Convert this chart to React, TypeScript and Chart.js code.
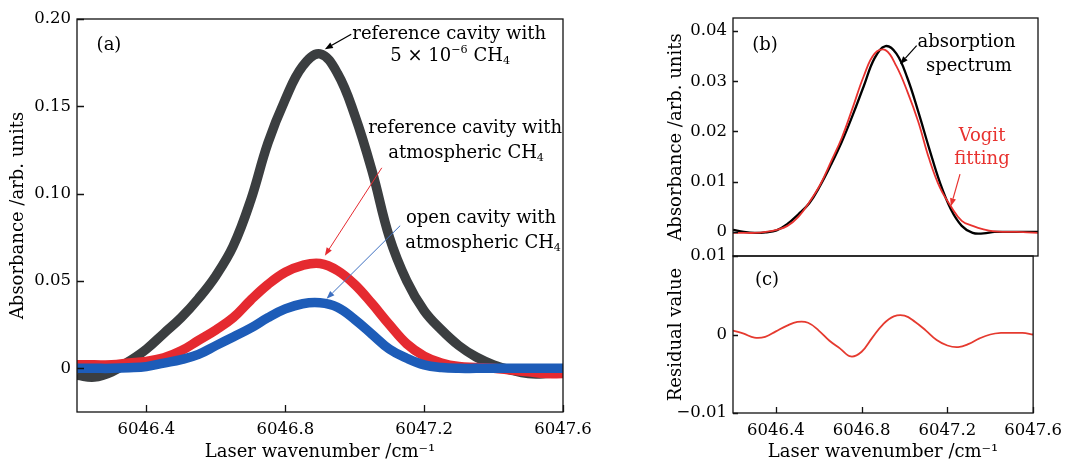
import React, { useEffect, useRef } from 'react';
import { Chart, registerables } from 'chart.js';

Chart.register(...registerables);

const FONT = "'DejaVu Serif', 'Liberation Serif', serif";

// ---------- data ----------
const WAVENUMBER = [
  6046.2, 6046.25, 6046.3, 6046.35, 6046.4, 6046.45, 6046.5, 6046.55, 6046.6, 6046.65,
  6046.7, 6046.75, 6046.8, 6046.85, 6046.9, 6046.95, 6047.0, 6047.05, 6047.1, 6047.15,
  6047.2, 6047.25, 6047.3, 6047.35, 6047.4, 6047.45, 6047.5, 6047.55, 6047.6,
];

// panel (a)
const REF_CAVITY_5PPM = [
  -0.004, -0.005, -0.002, 0.004, 0.011, 0.02, 0.029, 0.04, 0.053, 0.07,
  0.096, 0.129, 0.154, 0.173, 0.18, 0.169, 0.145, 0.113, 0.075, 0.05,
  0.033, 0.022, 0.013, 0.0065, 0.002, -0.001, -0.003, -0.003, -0.002,
];
const REF_CAVITY_ATM = [
  0.002, 0.002, 0.002, 0.003, 0.004, 0.006, 0.01, 0.016, 0.022, 0.029,
  0.039, 0.048, 0.055, 0.059, 0.06, 0.056, 0.048, 0.037, 0.025, 0.014,
  0.007, 0.003, 0.001, 0.0005, 0.0, -0.001, -0.002, -0.003, -0.003,
];
const OPEN_CAVITY_ATM = [
  0.0, 0.0, 0.0, 0.0003, 0.001, 0.003, 0.005, 0.008, 0.013, 0.018,
  0.023, 0.029, 0.034, 0.037, 0.0375, 0.035, 0.028, 0.0195, 0.011, 0.0058,
  0.002, 0.0005, 0.0, 0.0, 0.0, 0.0, 0.0, 0.0, 0.0,
];

// panel (b)
const ABSORPTION_SPECTRUM = [
  0.0004, 0.0, -0.0002, -0.0001, 0.0003, 0.0016, 0.0035, 0.0057, 0.0092, 0.0134,
  0.018, 0.0233, 0.029, 0.0346, 0.037, 0.0355, 0.0307, 0.024, 0.0167, 0.0098,
  0.0045, 0.0012, -0.0002, -0.0003, 0.0, 0.0, 0.0, 0.0, 0.0,
];
const VOIGT_FITTING = [
  -0.0002, -0.0002, -0.0002, 0.0, 0.0004, 0.0012, 0.003, 0.0059, 0.0094, 0.014,
  0.0188, 0.0248, 0.031, 0.0355, 0.0362, 0.033, 0.028, 0.022, 0.0146, 0.0088,
  0.0051, 0.0022, 0.0012, 0.0005, 0.0001, 0.0, 0.0, -0.0001, -0.0002,
];

// panel (c)
const RESIDUAL = [
  0.0005, 0.0001, -0.0004, -0.0003, 0.0004, 0.0011, 0.0016, 0.0015, 0.0005, -0.0008,
  -0.0018, -0.0028, -0.0022, -0.0004, 0.0013, 0.0023, 0.0024, 0.0016, 0.0005, -0.0007,
  -0.0014, -0.0016, -0.0012, -0.0005, 0.0, 0.0002, 0.0002, 0.0002, 0.0,
];

const X_TICKS = [6046.4, 6046.8, 6047.2, 6047.6];
const A_Y_TICKS = [0, 0.05, 0.1, 0.15, 0.2];
const B_Y_TICKS = [0, 0.01, 0.02, 0.03, 0.04];
const C_Y_TICKS = [-0.01, 0, 0.01];

const X_TITLE = 'Laser wavenumber /cm\u207B\u00B9';

// ---------- drawing helpers ----------
type Part = [string, 'n' | 'sup' | 'sub'];

function drawRich(ctx: CanvasRenderingContext2D, parts: Part[], cx: number, cy: number, size: number, color: string) {
  const small = size * 0.62;
  const widths: number[] = [];
  let total = 0;
  parts.forEach(([t, m]) => {
    ctx.font = `${m === 'n' ? size : small}px ${FONT}`;
    const w = ctx.measureText(t).width;
    widths.push(w);
    total += w;
  });
  let x = cx - total / 2;
  ctx.fillStyle = color;
  ctx.textBaseline = 'middle';
  ctx.textAlign = 'left';
  parts.forEach(([t, m], i) => {
    ctx.font = `${m === 'n' ? size : small}px ${FONT}`;
    const dy = m === 'sup' ? -size * 0.36 : m === 'sub' ? size * 0.26 : 0;
    ctx.fillText(t, x, cy + dy);
    x += widths[i];
  });
}

function drawArrow(ctx: CanvasRenderingContext2D, x1: number, y1: number, x2: number, y2: number, color: string, lw: number, head: number) {
  const ang = Math.atan2(y2 - y1, x2 - x1);
  const bx = x2 - head * Math.cos(ang);
  const by = y2 - head * Math.sin(ang);
  ctx.strokeStyle = color;
  ctx.fillStyle = color;
  ctx.lineWidth = lw;
  ctx.beginPath();
  ctx.moveTo(x1, y1);
  ctx.lineTo(bx, by);
  ctx.stroke();
  const hw = head * 0.38;
  ctx.beginPath();
  ctx.moveTo(x2, y2);
  ctx.lineTo(bx + hw * Math.sin(ang), by - hw * Math.cos(ang));
  ctx.lineTo(bx - hw * Math.sin(ang), by + hw * Math.cos(ang));
  ctx.closePath();
  ctx.fill();
}

type TextNote = { x: number; y: number; parts: Part[]; color: string };
type ArrowNote = { x1: number; y1: number; x2: number; y2: number; color: string; width: number };
type PanelNotes = {
  label: string;
  labelDx: number;
  labelDy: number;
  texts: TextNote[];
  arrows: ArrowNote[];
  yTickLen: number;
  xTickLen: number;
  drawXTicks: boolean;
};

const framePlugin = {
  id: 'framePlugin',
  afterDraw(chart: any, _args: any, opts: PanelNotes) {
    const { ctx, chartArea } = chart;
    const xs = chart.scales.x;
    const ys = chart.scales.y;
    const { left, top, right, bottom } = chartArea;
    ctx.save();
    ctx.strokeStyle = '#111';
    ctx.lineWidth = 1.3;
    ctx.strokeRect(left, top, right - left, bottom - top);
    ctx.beginPath();
    ys.ticks.forEach((t: any) => {
      const py = Math.round(ys.getPixelForValue(t.value)) + 0.5;
      ctx.moveTo(left, py);
      ctx.lineTo(left + opts.yTickLen, py);
    });
    if (opts.drawXTicks) {
      xs.ticks.forEach((t: any) => {
        const px = Math.round(xs.getPixelForValue(t.value)) + 0.5;
        ctx.moveTo(px, bottom);
        ctx.lineTo(px, bottom - opts.xTickLen);
      });
    }
    ctx.lineWidth = 1.3;
    ctx.stroke();
    drawRich(ctx, [[opts.label, 'n']], left + opts.labelDx, top + opts.labelDy, 18, '#000');
    opts.arrows.forEach((a) => {
      drawArrow(ctx, xs.getPixelForValue(a.x1), ys.getPixelForValue(a.y1), xs.getPixelForValue(a.x2), ys.getPixelForValue(a.y2), a.color, a.width, 8);
    });
    opts.texts.forEach((t) => {
      drawRich(ctx, t.parts, xs.getPixelForValue(t.x), ys.getPixelForValue(t.y), 18, t.color);
    });
    ctx.restore();
  },
};

type Series = { values: number[]; color: string; width: number; order: number };

type PanelSpec = {
  series: Series[];
  padding: { left: number; top: number; right: number; bottom: number };
  yMin: number;
  yMax: number;
  yTicks: number[];
  yFmt: (v: number) => string;
  yWidth: number;
  yTitle: string;
  yTitlePad: number;
  showX: boolean;
  xHeight: number;
  notes: PanelNotes;
};

function makeChart(canvas: HTMLCanvasElement, spec: PanelSpec) {
  const tickFont = { family: FONT, size: 16.5 };
  return new Chart(canvas, {
    type: 'line',
    data: {
      datasets: spec.series.map((s) => ({
        data: WAVENUMBER.map((x, i) => ({ x, y: s.values[i] })),
        borderColor: s.color,
        backgroundColor: s.color,
        borderWidth: s.width,
        pointRadius: 0,
        fill: false,
        tension: 0.4,
        borderJoinStyle: 'round' as const,
        clip: 0,
        order: s.order,
      })),
    },
    options: {
      animation: false,
      responsive: false,
      events: [],
      layout: { padding: spec.padding },
      plugins: {
        legend: { display: false },
        tooltip: { enabled: false },
        framePlugin: spec.notes,
      } as any,
      scales: {
        x: {
          type: 'linear',
          min: 6046.2,
          max: 6047.6,
          display: spec.showX,
          grid: { display: false, drawTicks: false },
          border: { display: false },
          afterBuildTicks: (s: any) => {
            s.ticks = X_TICKS.map((v) => ({ value: v }));
          },
          afterFit: (s: any) => {
            s.height = spec.xHeight;
          },
          ticks: {
            font: tickFont,
            color: '#000',
            padding: 8,
            maxRotation: 0,
            autoSkip: false,
            callback: (v: any) => Number(v).toFixed(1),
          },
          title: {
            display: true,
            text: X_TITLE,
            font: { family: FONT, size: 18, lineHeight: 1.0 },
            color: '#000',
            padding: { top: 0, bottom: 0 },
          },
        },
        y: {
          type: 'linear',
          min: spec.yMin,
          max: spec.yMax,
          grid: { display: false, drawTicks: false },
          border: { display: false },
          afterBuildTicks: (s: any) => {
            s.ticks = spec.yTicks.map((v) => ({ value: v }));
          },
          afterFit: (s: any) => {
            s.width = spec.yWidth;
          },
          ticks: {
            font: tickFont,
            color: '#000',
            padding: 6,
            autoSkip: false,
            callback: (v: any) => spec.yFmt(Number(v)),
          },
          title: {
            display: true,
            text: spec.yTitle,
            font: { family: FONT, size: 18, lineHeight: 1.2 },
            color: '#000',
            padding: { top: spec.yTitlePad, bottom: 0 },
          },
        },
      },
    } as any,
    plugins: [framePlugin],
  });
}

const fmt2 = (v: number) => (Math.abs(v) < 1e-9 ? '0' : (v < 0 ? '\u2212' : '') + Math.abs(v).toFixed(2));

const PANEL_A: PanelSpec = {
  series: [
    { values: REF_CAVITY_5PPM, color: '#3b3e40', width: 9.5, order: 3 },
    { values: REF_CAVITY_ATM, color: '#e52a30', width: 9.5, order: 2 },
    { values: OPEN_CAVITY_ATM, color: '#1d5cb8', width: 9.5, order: 1 },
  ],
  padding: { left: 0, top: 19, right: 507, bottom: 0 },
  yMin: -0.025,
  yMax: 0.2,
  yTicks: A_Y_TICKS,
  yFmt: fmt2,
  yWidth: 77,
  yTitle: 'Absorbance /arb. units',
  yTitlePad: 8,
  showX: true,
  xHeight: 49,
  notes: {
    label: '(a)',
    labelDx: 32,
    labelDy: 26,
    yTickLen: 7,
    xTickLen: 7,
    drawXTicks: true,
    texts: [
      { x: 6047.272, y: 0.1913, parts: [['reference cavity with', 'n']], color: '#000' },
      { x: 6047.275, y: 0.1787, parts: [['5 \u00D7 10', 'n'], ['\u22126', 'sup'], [' CH', 'n'], ['4', 'sub']], color: '#000' },
      { x: 6047.318, y: 0.1376, parts: [['reference cavity with', 'n']], color: '#000' },
      { x: 6047.321, y: 0.1233, parts: [['atmospheric CH', 'n'], ['4', 'sub']], color: '#000' },
      { x: 6047.364, y: 0.0857, parts: [['open cavity with', 'n']], color: '#000' },
      { x: 6047.37, y: 0.0714, parts: [['atmospheric CH', 'n'], ['4', 'sub']], color: '#000' },
    ],
    arrows: [
      { x1: 6046.99, y1: 0.1913, x2: 6046.914, y2: 0.1827, color: '#000', width: 1.3 },
      { x1: 6047.078, y1: 0.1148, x2: 6046.914, y2: 0.0645, color: '#e52a30', width: 1 },
      { x1: 6047.131, y1: 0.0817, x2: 6046.919, y2: 0.0398, color: '#3d6fc0', width: 1 },
    ],
  },
};

const PANEL_B: PanelSpec = {
  series: [
    { values: ABSORPTION_SPECTRUM, color: '#000000', width: 2.3, order: 2 },
    { values: VOIGT_FITTING, color: '#e8322f', width: 1.8, order: 1 },
  ],
  padding: { left: 660, top: 18, right: 32, bottom: 205 },
  yMin: -0.0048,
  yMax: 0.0426,
  yTicks: B_Y_TICKS,
  yFmt: fmt2,
  yWidth: 73,
  yTitle: 'Absorbance /arb. units',
  yTitlePad: 6,
  showX: false,
  xHeight: 0,
  notes: {
    label: '(b)',
    labelDx: 32,
    labelDy: 27,
    yTickLen: 5,
    xTickLen: 5,
    drawXTicks: false,
    texts: [
      { x: 6047.272, y: 0.0378, parts: [['absorption', 'n']], color: '#000' },
      { x: 6047.283, y: 0.033, parts: [['spectrum', 'n']], color: '#000' },
      { x: 6047.343, y: 0.019, parts: [['Vogit', 'n']], color: '#e8322f' },
      { x: 6047.343, y: 0.0144, parts: [['fitting', 'n']], color: '#e8322f' },
    ],
    arrows: [
      { x1: 6047.043, y1: 0.0371, x2: 6046.967, y2: 0.0334, color: '#000', width: 1.2 },
      { x1: 6047.242, y1: 0.0115, x2: 6047.2, y2: 0.0051, color: '#e8322f', width: 1.2 },
    ],
  },
};

const PANEL_C: PanelSpec = {
  series: [{ values: RESIDUAL, color: '#e53a2f', width: 1.8, order: 1 }],
  padding: { left: 660, top: 256, right: 32, bottom: 0 },
  yMin: -0.01,
  yMax: 0.01,
  yTicks: C_Y_TICKS,
  yFmt: fmt2,
  yWidth: 73,
  yTitle: 'Residual value',
  yTitlePad: 6,
  showX: true,
  xHeight: 48,
  notes: {
    label: '(c)',
    labelDx: 34,
    labelDy: 24,
    yTickLen: 5,
    xTickLen: 6,
    drawXTicks: true,
    texts: [],
    arrows: [],
  },
};

function Panel({ spec }: { spec: PanelSpec }) {
  const ref = useRef<HTMLCanvasElement | null>(null);
  useEffect(() => {
    if (!ref.current) return;
    const chart = makeChart(ref.current, spec);
    return () => chart.destroy();
  }, [spec]);
  return (
    <canvas
      ref={ref}
      width={1070}
      height={461}
      style={{ position: 'absolute', left: 0, top: 0, width: 1070, height: 461 }}
    />
  );
}

export default function App() {
  return (
    <div style={{ position: 'fixed', left: 0, top: 0, width: 1070, height: 461, background: '#ffffff' }}>
      <Panel spec={PANEL_A} />
      <Panel spec={PANEL_B} />
      <Panel spec={PANEL_C} />
    </div>
  );
}
